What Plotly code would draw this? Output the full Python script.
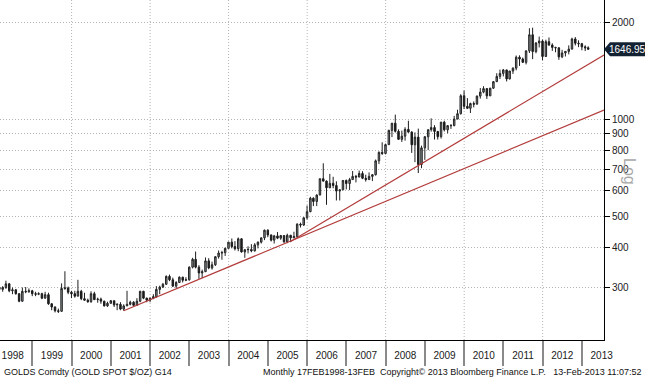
import math
import pandas as pd
import plotly.graph_objects as go

# ---------------- data (monthly, Feb 1998 - Feb 2013) ----------------
first_month = "1998-02-01"
n_months = 181

opens = [
    301, 297, 301, 309, 294, 296, 288, 273, 293, 292, 294,                 # 1998
    288, 287, 288, 279, 286, 268, 262, 255, 254, 299, 300, 291,            # 1999
    288, 283, 293, 278, 275, 272, 288, 276, 277, 273, 264, 269,            # 2000
    274, 266, 267, 258, 264, 267, 271, 265, 273, 293, 279, 275,            # 2001
    279, 282, 297, 302, 308, 326, 318, 304, 312, 324, 317, 318,            # 2002
    348, 368, 348, 334, 337, 364, 346, 354, 375, 385, 386, 398,            # 2003
    416, 403, 397, 426, 388, 394, 395, 391, 408, 416, 429, 453,            # 2004
    438, 422, 435, 428, 436, 417, 437, 429, 433, 473, 470, 495,            # 2005
    517, 569, 556, 582, 654, 643, 613, 633, 623, 599, 604, 646,            # 2006
    632, 650, 665, 662, 679, 656, 650, 665, 673, 743, 789, 783,            # 2007
    834, 923, 972, 917, 866, 886, 930, 912, 833, 880, 724, 815,            # 2008
    882, 928, 942, 916, 883, 979, 927, 955, 955, 1001, 1040, 1182,         # 2009
    1096, 1081, 1118, 1113, 1179, 1213, 1244, 1181, 1248, 1307, 1357, 1386,  # 2010
    1421, 1333, 1410, 1439, 1556, 1536, 1500, 1628, 1826, 1620, 1722, 1746,  # 2011
    1564, 1738, 1697, 1669, 1664, 1560, 1604, 1622, 1648, 1772, 1719, 1713,  # 2012
    1675, 1664,                                                            # 2013
]
highs = [
    304, 304, 316, 311, 301, 298, 289, 301, 302, 299, 296,
    292, 291, 290, 292, 290, 269, 263, 259, 310, 338, 303, 294,
    294, 318, 296, 290, 278, 293, 292, 280, 280, 274, 272, 275,
    274, 269, 271, 267, 294, 274, 273, 279, 294, 294, 280, 280,
    287, 304, 305, 311, 328, 330, 323, 315, 326, 325, 324, 350,
    372, 389, 353, 342, 373, 371, 362, 376, 392, 391, 400, 417,
    427, 419, 430, 428, 396, 404, 410, 413, 418, 430, 455, 456,
    439, 438, 447, 438, 437, 442, 438, 448, 476, 478, 496, 540,
    575, 573, 585, 654, 730, 646, 677, 663, 642, 606, 648, 650,
    658, 691, 672, 693, 690, 673, 684, 676, 750, 795, 848, 840,
    928, 973, 1033, 930, 922, 944, 989, 918, 910, 935, 828, 887,
    928, 1006, 958, 920, 981, 989, 959, 966, 1024, 1070, 1195, 1227,
    1162, 1125, 1135, 1184, 1249, 1265, 1245, 1250, 1312, 1388, 1424, 1431,
    1423, 1411, 1448, 1575, 1577, 1552, 1633, 1913, 1921, 1733, 1803, 1764,
    1763, 1791, 1718, 1676, 1668, 1640, 1625, 1693, 1788, 1796, 1755, 1723,
    1694, 1682,
]
lows = [
    289, 292, 298, 291, 287, 286, 271, 272, 289, 290, 283,
    283, 285, 277, 278, 266, 256, 252, 251, 253, 296, 287, 279,
    280, 283, 275, 274, 270, 270, 276, 270, 268, 263, 262, 268,
    262, 256, 256, 255, 264, 265, 264, 264, 271, 277, 271, 271,
    277, 280, 287, 300, 307, 315, 302, 300, 311, 312, 315, 316,
    345, 345, 320, 322, 336, 343, 342, 351, 370, 367, 377, 398,
    398, 392, 390, 386, 372, 384, 387, 389, 398, 412, 422, 431,
    418, 412, 425, 423, 414, 413, 416, 428, 431, 462, 467, 489,
    515, 538, 538, 582, 641, 543, 612, 611, 560, 560, 604, 606,
    603, 649, 637, 661, 652, 641, 649, 643, 669, 726, 775, 778,
    833, 880, 909, 864, 850, 858, 908, 786, 736, 681, 705, 748,
    802, 915, 865, 865, 871, 916, 904, 933, 951, 1000, 1034, 1075,
    1075, 1045, 1088, 1112, 1158, 1203, 1155, 1180, 1240, 1306, 1332, 1357,
    1309, 1327, 1381, 1417, 1462, 1495, 1478, 1603, 1535, 1600, 1668, 1523,
    1563, 1688, 1628, 1612, 1527, 1546, 1564, 1588, 1648, 1692, 1672, 1635,
    1626, 1644,
]
closes = [
    297, 301, 309, 294, 296, 288, 273, 293, 292, 294, 288,
    287, 288, 279, 286, 268, 262, 255, 254, 299, 300, 291, 288,
    283, 293, 278, 275, 272, 288, 276, 277, 273, 264, 269, 274,
    266, 267, 258, 264, 267, 271, 265, 273, 293, 279, 275, 279,
    282, 297, 302, 308, 326, 318, 304, 312, 324, 317, 318, 348,
    368, 348, 334, 337, 364, 346, 354, 375, 385, 386, 398, 416,
    403, 397, 426, 388, 394, 395, 391, 408, 416, 429, 453, 438,
    422, 435, 428, 436, 417, 437, 429, 433, 473, 470, 495, 517,
    569, 556, 582, 654, 643, 613, 633, 623, 599, 604, 646, 632,
    650, 665, 662, 679, 656, 650, 665, 673, 743, 789, 783, 834,
    923, 972, 917, 866, 886, 930, 912, 833, 880, 724, 815, 882,
    928, 942, 916, 883, 979, 927, 955, 955, 1001, 1040, 1182, 1096,
    1081, 1118, 1113, 1179, 1213, 1244, 1181, 1248, 1307, 1357, 1386, 1421,
    1333, 1410, 1439, 1556, 1536, 1500, 1628, 1826, 1620, 1722, 1746, 1564,
    1738, 1697, 1669, 1664, 1560, 1604, 1622, 1648, 1772, 1719, 1713, 1675,
    1664, 1646.95,
]

# trend lines (drawn from the 2001 low and from the 2005 low)
trend_low_dates = ["2001-04-30", "2013-07-25"]
trend_low_vals = [255, 1067]
trend_high_dates = ["2005-07-31", "2013-07-25"]
trend_high_vals = [418, 1580]

last_price = 1646.95
last_label = "1646.95"

y_tick_vals = [300, 400, 500, 600, 700, 800, 900, 1000, 2000]
y_tick_text = ["300", "400", "500", "600", "700", "800", "900", "1000", "2000"]
grid_years = [2000, 2002, 2004, 2006, 2008, 2010, 2012]

footer_left = "GOLDS Comdty (GOLD SPOT $/OZ) G14"
footer_right = "Monthly 17FEB1998-13FEB  Copyright\u00a9 2013 Bloomberg Finance L.P.   13-Feb-2013 11:07:52"

# ---------------- figure ----------------
months = pd.date_range(first_month, periods=n_months, freq="MS") + pd.offsets.MonthEnd(0)

X_RANGE = ["1998-03-06", "2013-07-25"]
Y_MIN, Y_MAX = 207, 2340
y_range = [math.log10(Y_MIN), math.log10(Y_MAX)]

PLOT_W, PLOT_H = 604, 340
FONT = "Liberation Sans"
GRID_COLOR = "#b4b4b4"
GRID_DASH = "1px,2px"

fig = go.Figure()
fig.add_trace(go.Candlestick(
    x=months, open=opens, high=highs, low=lows, close=closes,
    increasing=dict(fillcolor="#8d979e", line=dict(color="#222222", width=1)),
    decreasing=dict(fillcolor="#1c1c1c", line=dict(color="#1c1c1c", width=1)),
    whiskerwidth=0, hoverinfo="skip", showlegend=False,
))
for dts, vals in ((trend_low_dates, trend_low_vals), (trend_high_dates, trend_high_vals)):
    fig.add_trace(go.Scatter(
        x=dts, y=vals, mode="lines",
        line=dict(color="#b23b3b", width=1.2),
        hoverinfo="skip", showlegend=False, cliponaxis=True,
    ))

shapes = []
for yr in grid_years:
    shapes.append(dict(type="line", xref="x", yref="paper",
                       x0=f"{yr}-01-01", x1=f"{yr}-01-01", y0=0, y1=1,
                       line=dict(color=GRID_COLOR, width=1, dash=GRID_DASH), layer="below"))

# last-price tag (pentagon pointing at the axis)
yc = (math.log10(last_price) - y_range[0]) / (y_range[1] - y_range[0])
hh = 7 / PLOT_H
x_tip, x_sh, x_end = 1.0, 610 / PLOT_W, 645 / PLOT_W
shapes.append(dict(
    type="path", xref="paper", yref="paper",
    path=(f"M {x_tip} {yc} L {x_sh} {yc + hh} L {x_end} {yc + hh} "
          f"L {x_end} {yc - hh} L {x_sh} {yc - hh} Z"),
    fillcolor="#132233", line=dict(width=0), layer="above"))

annotations = [
    dict(xref="paper", yref="paper", x=(x_sh + x_end) / 2, y=yc, text=last_label,
         showarrow=False, xanchor="center", yanchor="middle",
         font=dict(family=FONT, size=10, color="white")),
    dict(xref="paper", yref="paper", x=630 / PLOT_W, y=1 - 171 / PLOT_H, text="Log",
         showarrow=False, textangle=90, xanchor="center", yanchor="middle",
         font=dict(family=FONT, size=16, color="#a8a8a8")),
    dict(xref="paper", yref="paper", x=2 / PLOT_W, y=1 - 372 / PLOT_H, text=footer_left,
         showarrow=False, xanchor="left", yanchor="middle",
         font=dict(family=FONT, size=9, color="#111111")),
    dict(xref="paper", yref="paper", x=644 / PLOT_W, y=1 - 372 / PLOT_H, text=footer_right,
         showarrow=False, xanchor="right", yanchor="middle",
         font=dict(family=FONT, size=9, color="#111111")),
]

fig.update_layout(
    width=645, height=378,
    margin=dict(l=0, r=41, t=0, b=38, pad=0),
    paper_bgcolor="white", plot_bgcolor="white",
    showlegend=False, hovermode=False,
    shapes=shapes, annotations=annotations,
    xaxis=dict(
        type="date", range=X_RANGE, tick0="1999-01-01", dtick="M12",
        tickformat="%Y", ticklabelmode="period",
        ticks="outside", ticklen=25, tickwidth=1.5, tickcolor="#8a8a8a",
        ticklabelstandoff=-19,
        showgrid=False, zeroline=False,
        showline=True, linecolor="black", linewidth=1,
        rangeslider=dict(visible=False),
        tickfont=dict(family=FONT, size=10, color="#1a1a1a"),
        fixedrange=True,
    ),
    yaxis=dict(
        type="log", side="right", range=y_range,
        tickvals=y_tick_vals, ticktext=y_tick_text,
        ticks="outside", ticklen=5, tickwidth=1, tickcolor="black",
        showline=True, linecolor="black", linewidth=1,
        showgrid=True, gridcolor=GRID_COLOR, griddash=GRID_DASH, gridwidth=1,
        zeroline=False,
        tickfont=dict(family=FONT, size=10, color="#1a1a1a"),
        fixedrange=True,
    ),
)

fig.write_html("out.html", config={"displayModeBar": False},
               post_script="document.body.style.margin='0';")
